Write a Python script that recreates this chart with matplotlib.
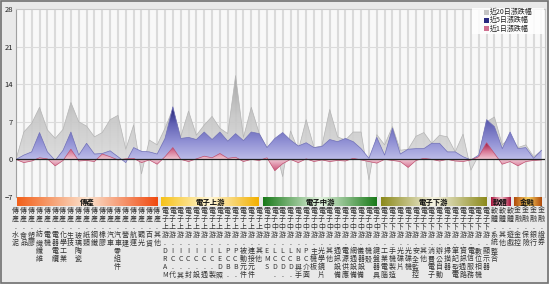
import numpy as np
import matplotlib
matplotlib.use('Agg')
import matplotlib.pyplot as plt
from matplotlib.colors import LinearSegmentedColormap
from matplotlib.patches import PathPatch, Rectangle

plt.rcParams['font.family'] = ['Noto Sans CJK TC', 'DejaVu Sans']

# industry groups and sub-categories
groups = ['傳產', '電子上游', '電子中游', '電子下游', '軟體', '金融']
trad = ['水泥', '食品', '塑膠', '紡織纖維', '電機', '電器電纜', '化學工業', '生技', '玻璃陶瓷',
        '紙類', '鋼鐵', '橡膠', '汽車', '汽車零組件', '營建', '航運', '觀光', '百貨', '其他']
up = ['DRAM', 'IC.代工', 'IC.其他', 'IC.封測', 'IC.設計', 'IC.通路', 'IC.製造', 'LED照明',
      'PCB.材料', 'PCB.製造', '被動元件', '連接元件', '其他']
mid = ['EMS', 'LCD.面板', 'LCD.零組件', 'LCD.其他', 'NB與手機', 'PC介面', '主機板', '光學鏡片',
       '其他', '通訊設備', '電源供應', '網通設備', '儀器設備', '機殼', '鍵盤器具']
down = ['工業電腦', '手機製造', '光碟片', '光碟機', '安全監控', '其他', '消費電子', '辦公自動',
        '掃描器', '筆記型電腦', '資訊通路', '電信服務', '數位相機', '顯示器']
soft = ['系統整合', '其他', '遊戲']
fin = ['金控', '保險', '銀行', '證券']
members = [trad, up, mid, down, soft, fin]

# % change (20-day, 5-day, 1-day)
chg20 = [0, 5.1, 6.7, 9.7, 5.5, 3.9, 5.6, 10.6, 7.0, 6.2, 4.2, 5.0, 7.4, 8.2, 1.9, 6.4, -2.7, 3.6, 2.7,
         5.8, 9.4, 4.2, 9.0, 4.5, 6.4, 8.0, 5.8, 4.8, 15.6, 4.1, 9.7, 4.9, 2.0, 2.5,
         -3.2, 5.3, 1.7, 7.4, 2.2, 2.5, 9.3, 4.2, 3.6, 5.1, 5.1, -3.8, 4.6,
         2.7, 6.1, 1.7, 1.9, 4.3, 5.0, 3.0, 4.5, 4.2, 1.4, 4.7, -2.0, 0.8, 7.0,
         7.9, 2.7, 4.2, 2.2, 2.7, 0.5, 1.6]
chg5 = [0, 0.8, 1.4, 5.0, 1.4, -0.2, 1.7, 5.1, 0.8, 3.0, 1.0, 1.1, 1.6, 0.5, -0.6, 2.2, 1.5, 1.4, 1.0,
        3.9, 9.8, 3.9, 4.1, 3.7, 5.1, 3.7, 5.1, 3.4, 4.8, 3.5, 5.1, 4.8, 2.2, 3.9,
        5.0, 3.6, 2.5, 3.1, 2.2, 2.4, 3.7, 3.3, 3.9, 3.3, 2.0, 0.2, 4.1,
        0.8, 5.8, 1.0, 1.9, 2.0, 2.0, 3.0, 3.0, 1.4, 1.4, 0.5, -0.1, 0.8, 7.4,
        6.1, 2.0, 5.1, 2.0, 2.2, 0.2, 1.7]
chg1 = [0, -0.6, -0.3, 0.3, 0.1, -1.2, -0.2, 1.9, -0.3, -0.2, -0.4, 1.0, 0.5, -0.1, 0.1, 0.2, -0.6, -0.1, -0.9,
        0.5, 2.2, 0.0, -0.4, 0.1, 0.6, 0.3, 1.1, 0.2, 0.4, -0.4, 0.0, -0.2, 0.3, -2.1,
        -0.8, 0.0, -0.6, 0.1, -0.4, -0.1, -0.4, -0.2, -0.3, 0.2, -0.1, -0.4, -0.7,
        0.0, -0.2, -0.4, -1.5, -0.2, 0.2, 0.0, -0.3, 0.0, -0.3, -0.4, -0.1, 0.5, 3.1,
        1.1, -0.9, -0.4, -1.2, -0.4, -0.2, -0.1]
legend_names = ['近20日漲跌幅', '近5日漲跌幅', '近1日漲跌幅']
yticks = [-7, 0, 7, 14, 21, 28]

W, H = 549, 284
fig = plt.figure(figsize=(W / 100, H / 100), dpi=100, facecolor='#e9e9e9')

PL, PR, PT, PB = 16, 545, 9, 197
n = sum(len(m) for m in members)
step = 7.843
XMAX = (PR - PL) / step
ax = fig.add_axes([PL / W, 1 - PB / H, (PR - PL) / W, (PB - PT) / H])
ax.set_facecolor('#f8f8f8')
x = np.arange(n)


def grad_area(y, stops, vscale, z, alpha=1.0, edge=None):
    coll = ax.fill_between(x, 0, y, facecolor='none', edgecolor='none')
    patch = PathPatch(coll.get_paths()[0], facecolor='none', edgecolor='none',
                      transform=ax.transData)
    ax.add_patch(patch)
    cmap = LinearSegmentedColormap.from_list('g', stops)
    yy = np.linspace(-7, 28, 600)
    rgba = cmap(np.clip(np.abs(yy) / vscale, 0, 1))[:, None, :]
    im = ax.imshow(rgba, extent=[0, XMAX, -7, 28], origin='lower', aspect='auto',
                   zorder=z, alpha=alpha, interpolation='bilinear')
    im.set_clip_path(patch)
    if edge:
        ax.plot(x, y, color=edge, lw=0.5, zorder=z + 0.1)


for i in x:
    ax.axvline(i, color='#dadada', lw=1.5, zorder=0.5)
for v in [7, 14, 21]:
    ax.axhline(v, color='#dcdcdc', lw=0.8, zorder=0.5)

grad_area(chg20, ['#dadada', '#c6c6c6', '#a0a0a0'], 16, 2, alpha=0.9, edge='#b4b4b4')
grad_area(chg5, ['#bcbce8', '#9090d4', '#6262b4', '#1c1c6c'], 10, 3, edge='#7070b8')
grad_area(chg1, ['#f0c8d4', '#d87896', '#a0204a'], 3, 4, edge='#c05070')
ax.axhline(0, color='#202020', lw=0.9, zorder=6)

ax.set_xlim(0, XMAX)
ax.set_ylim(-7, 28)
ax.set_xticks([])
ax.set_yticks(yticks)
ax.tick_params(axis='y', length=0, pad=2, labelsize=5.5, labelcolor='#222')
for s in ['top', 'right']:
    ax.spines[s].set_color('#c8c8c8')
ax.spines['left'].set_color('#a0a0a0')
ax.spines['bottom'].set_visible(False)

# overlay in pixel units
ov = fig.add_axes([0, 0, 1, 1], zorder=10)
ov.set_xlim(0, W)
ov.set_ylim(H, 0)
ov.axis('off')


def xpix(i):
    return PL + i * step


bar_colors = [['#f2601a', '#fbe3cf', '#f04a10'],
              ['#f6c21a', '#fff6d6', '#f2b000'],
              ['#1a7a1a', '#e2f2de', '#1a7a1a'],
              ['#8c8a1c', '#f4f2e0', '#8c8a1c'],
              ['#a8103a', '#f4c8d0', '#a8103a'],
              ['#b04a0a', '#f8d060', '#b04a0a']]
start = 0
for g, m, cols in zip(groups, members, bar_colors):
    end = start + len(m)
    l = max(xpix(start - 0.5), PL + 1)
    r = xpix(end - 0.5) - 4
    cmap = LinearSegmentedColormap.from_list('b', cols)
    ov.imshow(cmap(np.linspace(0, 1, 200))[None, :, :], extent=[l, r, 206.5, 197.5],
              aspect='auto', interpolation='bilinear')
    ov.text((l + r) / 2, 202, g, ha='center', va='center', fontsize=5.3,
            color='#111', fontweight='bold')
    for j, name in enumerate(m):
        xc = xpix(start + j) - 0.3
        for k, ch in enumerate(g + '.' + name):
            yc = 210.5 + 8.1 * k
            if yc > 279:
                break
            ov.text(xc, yc, ch, ha='center', va='center', fontsize=5.0, color='#333')
    start = end

# legend
ov.add_patch(Rectangle((472, 8), 72, 26, fc='white', ec='none', alpha=0.85))
for k, (name, c) in enumerate(zip(legend_names, ['#c4c4c4', '#2a2a80', '#d07090'])):
    yc = 12 + 8.2 * k
    ov.add_patch(Rectangle((483.5, yc - 2.5), 5, 5, fc=c, ec='none'))
    ov.text(490, yc, name, ha='left', va='center', fontsize=5.0, color='#222')

ov.add_patch(Rectangle((0.6, 0.6), W - 1.6, H - 1.6, fc='none', ec='#707070', lw=1.2))
ov.set_xlim(0, W)
ov.set_ylim(H, 0)

fig.savefig('out.png', dpi=100, facecolor=fig.get_facecolor())
